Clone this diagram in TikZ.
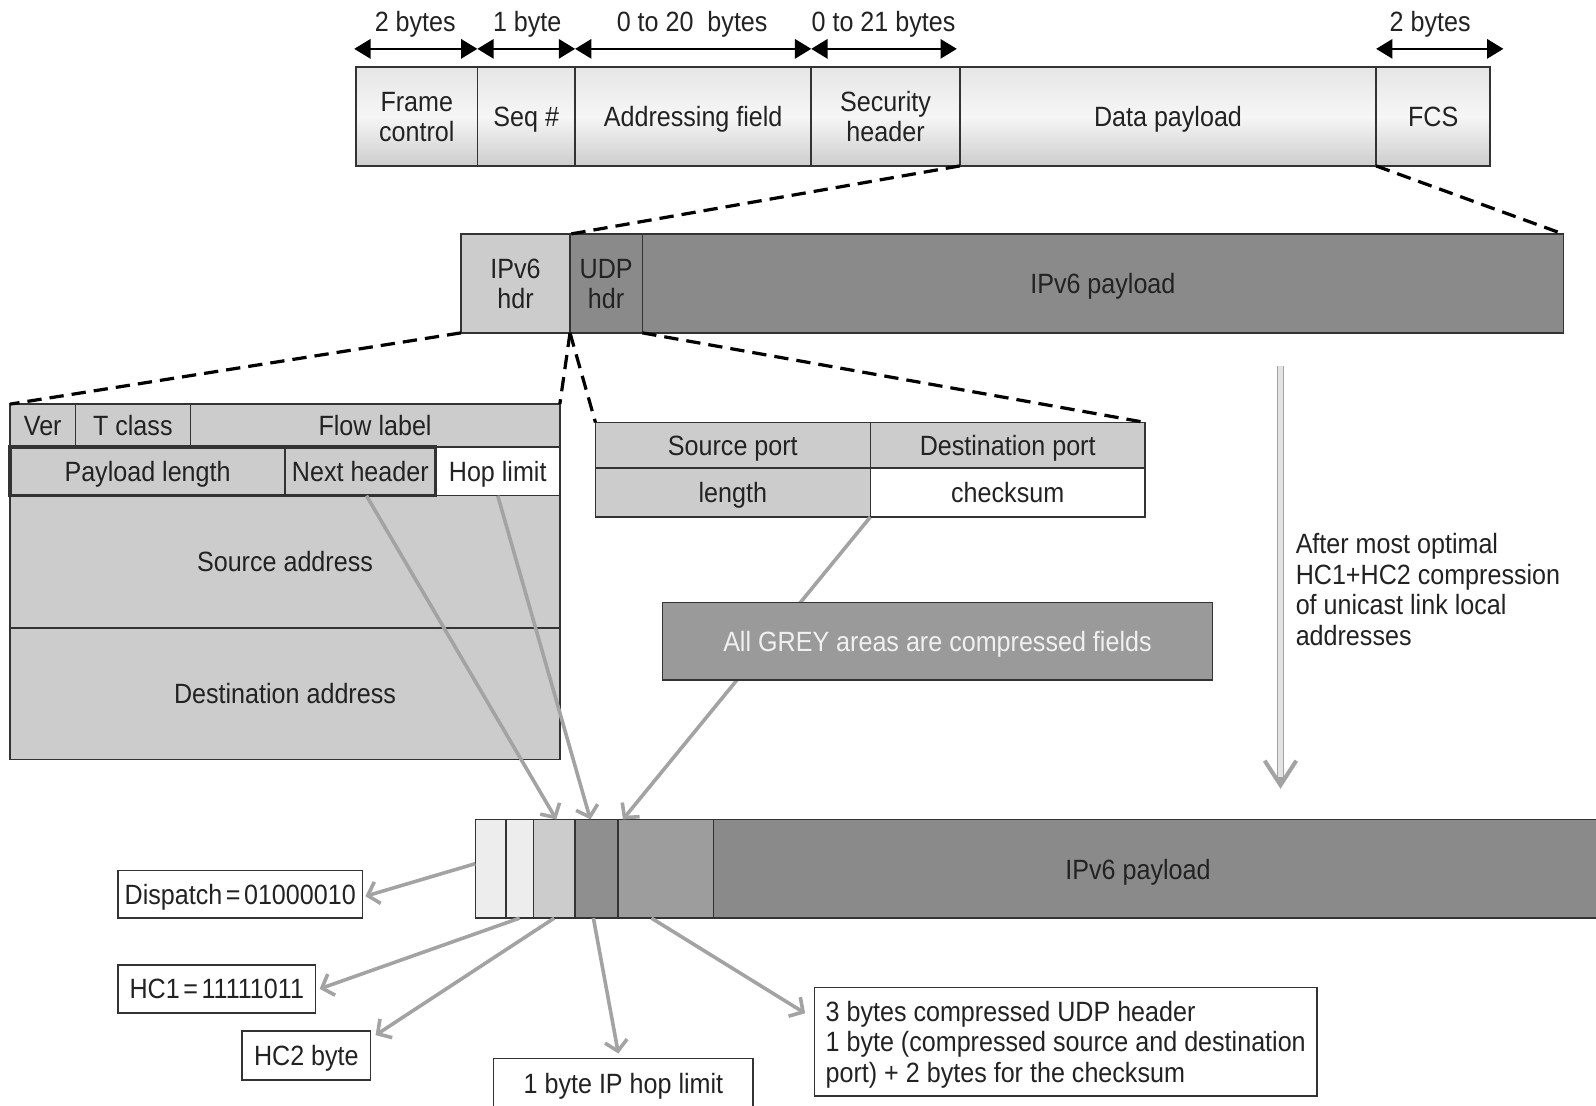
\documentclass[tikz,border=0pt]{standalone}
\usepackage{fontspec}
\setmainfont{Liberation Sans}[FakeStretch=0.9]
\usetikzlibrary{arrows.meta,calc}

\definecolor{ink}{HTML}{222222}
\definecolor{rule}{HTML}{333333}
\definecolor{lgrey}{HTML}{CCCCCC}
\definecolor{dgrey}{HTML}{8A8A8A}
\definecolor{vlgrey}{HTML}{EDEDED}
\definecolor{cgrey}{HTML}{8F8F8F}
\definecolor{mgrey}{HTML}{9D9D9D}
\definecolor{notegrey}{HTML}{9A9A9A}
\definecolor{arrowgrey}{HTML}{A3A3A3}
\definecolor{frametop}{HTML}{E6E6E6}
\definecolor{framemid}{HTML}{F6F6F6}
\definecolor{framebot}{HTML}{CDCDCD}

% a rectangular field given by its corners (x1,y1) (x2,y2)
\newcommand\fieldbox[7]{%
  \node[#6, minimum width={(#4-#2)*0.02cm}, minimum height={(#5-#3)*0.02cm}]
    (#1) at ({(#2+#4)/2},{(#3+#5)/2}) {#7};}

\tikzset{
  txt/.style={font=\fontsize{15.6}{16.8}\selectfont, text=ink, inner sep=0pt,
    outer sep=0pt, align=center, text depth=0pt},
  framecell/.style={txt, draw=rule, line width=0.85pt, top color=frametop,
    bottom color=framebot, middle color=framemid},
  lcell/.style={txt, draw=rule, line width=0.85pt, fill=lgrey},
  dcell/.style={txt, draw=rule, line width=0.85pt, fill=dgrey},
  wcell/.style={txt, draw=rule, line width=0.85pt, fill=white},
  vcell/.style={txt, draw=rule, line width=0.85pt, fill=vlgrey},
  ccell/.style={txt, draw=rule, line width=0.85pt, fill=cgrey},
  mcell/.style={txt, draw=rule, line width=0.85pt, fill=mgrey},
  notecell/.style={txt, draw=rule, line width=0.85pt, fill=notegrey,
    text=white!94!black},
  dim/.style={draw=black, line width=1.1pt,
    {Triangle[length=0.32cm,width=0.38cm]}-{Triangle[length=0.32cm,width=0.38cm]}},
  zoomline/.style={draw=black, line width=1.8pt, dash pattern=on 8pt off 4.5pt},
  garrow/.style={draw=arrowgrey, line width=2pt,
    -{Straight Barb[length=0.2cm,width=0.44cm]}},
}

\begin{document}
\begin{tikzpicture}[x=0.02cm, y=-0.02cm]
\useasboundingbox (0,0) rectangle (1568,1086);
\fill[white] (0,0) rectangle (1568,1086);

% ---- MAC frame ----
\fieldbox{fc}{350}{66}{469}{163}{framecell}{Frame\\control}
\fieldbox{sq}{469}{66}{565}{163}{framecell}{Seq \#}
\fieldbox{af}{565}{66}{797}{163}{framecell}{Addressing field}
\fieldbox{sh}{797}{66}{943}{163}{framecell}{Security\\header}
\fieldbox{dp}{943}{66}{1352}{163}{framecell}{Data payload}
\fieldbox{fcs}{1352}{66}{1464}{163}{framecell}{FCS}

% field sizes
\coordinate (dimrow) at (0,48);
\coordinate (fcsend) at (1477,48);
\draw[dim] ($(fc.north west |- dimrow)+(-2,0)$) -- (sq.north west |- dimrow);
\draw[dim] (sq.north west |- dimrow) -- (af.north west |- dimrow);
\draw[dim] (af.north west |- dimrow) -- (sh.north west |- dimrow);
\draw[dim] (sh.north west |- dimrow) -- ($(dp.north west |- dimrow)+(-3,0)$);
\draw[dim] (fcs.north west |- dimrow) -- (fcsend);
\node[txt] (w1) at (408,21) {2 bytes};
\node[txt] (w2) at (518,21) {1 byte};
\node[txt] (w3) at (680,21) {0 to 20~ bytes};
\node[txt] (w4) at (868,21) {0 to 21 bytes};
\node[txt] (w5) at (1405,21) {2 bytes};

% ---- IPv6 packet ----
\fieldbox{ip6}{453}{230}{560}{327}{lcell}{IPv6\\hdr}
\fieldbox{udp}{560}{230}{631}{327}{dcell}{UDP\\hdr}
\fieldbox{pay}{631}{230}{1536}{327}{dcell}{IPv6 payload}

% ---- IPv6 header ----
\fieldbox{ver}{10}{397}{74}{439}{lcell}{Ver}
\fieldbox{tc}{74}{397}{187}{439}{lcell}{T class}
\fieldbox{flow}{187}{397}{550}{439}{lcell}{Flow label}
\fieldbox{pl}{10}{439}{280}{487}{lcell}{Payload length}
\fieldbox{nh}{280}{439}{428}{487}{lcell}{Next header}
\fieldbox{hl}{428}{439}{550}{487}{wcell}{Hop limit}
\fieldbox{src}{10}{487}{550}{617}{lcell}{Source address}
\fieldbox{dst}{10}{617}{550}{746}{lcell}{Destination address}
\draw[rule, line width=2pt] (pl.north west) rectangle (nh.south east);

% ---- UDP header ----
\fieldbox{sp}{585}{415}{855}{460}{lcell}{Source port}
\fieldbox{dpt}{855}{415}{1125}{460}{lcell}{Destination port}
\fieldbox{len}{585}{460}{855}{508}{lcell}{length}
\fieldbox{cs}{855}{460}{1125}{508}{wcell}{checksum}

% ---- zoom lines ----
\draw[zoomline] (dp.south west) -- (udp.north west);
\draw[zoomline] (fcs.south west) -- (pay.north east);
\draw[zoomline] (ip6.south west) -- (ver.north west);
\draw[zoomline] (udp.south west) -- (flow.north east);
\draw[zoomline] (udp.south west) -- (sp.north west);
\draw[zoomline] (udp.south east) -- (dpt.north east);

% ---- compressed packet ----
\fieldbox{c1}{467}{805}{497}{902}{vcell}{}
\fieldbox{c2}{497}{805}{524}{902}{vcell}{}
\fieldbox{c3}{524}{805}{565}{902}{lcell}{}
\fieldbox{c4}{565}{805}{607}{902}{ccell}{}
\fieldbox{c5}{607}{805}{701}{902}{mcell}{}
\fieldbox{cpay}{701}{805}{1610}{902}{dcell}{}
\node[txt] (cpaytext) at (1118,854) {IPv6 payload};

% ---- arrows into the compressed packet ----
\draw[garrow] ($(nh.south)+(6,0)$) -- ($(c3.north)+(2,0)$);
\draw[garrow] (hl.south) -- ($(c4.north)+(-6,0)$);
\draw[garrow] (cs.south west) -- ($(c5.north west)+(5,0)$);

\fieldbox{note}{651}{592}{1191}{668}{notecell}{All GREY areas are compressed fields}

% ---- compression step ----
\coordinate (stepTop) at (1258,360);
\coordinate (stepBot) at (1258,775);
\draw[draw=arrowgrey, line width=0.03cm, double=gray!22, double distance=0.08cm]
  (stepTop) -- ($(stepBot)+(0,-5)$);
\draw[draw=arrowgrey, line width=0.08cm, -{Straight Barb[length=0.48cm,width=0.62cm]}]
  ($(stepBot)+(0,-12)$) -- (stepBot);
\node[txt, align=left, anchor=west, font=\fontsize{15.6}{17.2}\selectfont]
  (stepnote) at (1273,579) {After most optimal\\HC1+HC2 compression\\of unicast link local\\addresses};

% ---- field descriptions ----
\fieldbox{disp}{116}{855}{356}{902}{wcell}{Dispatch\kern0.07cm=\kern0.07cm01000010}
\fieldbox{hcone}{116}{948}{310}{995}{wcell}{HC1\kern0.07cm=\kern0.07cm11111011}
\fieldbox{hctwo}{238}{1013}{364}{1061}{wcell}{HC2 byte}
\fieldbox{hopb}{485}{1040}{740}{1088}{wcell}{1 byte IP hop limit}
\fieldbox{udpb}{800}{970}{1294}{1077}{wcell, align=left,
  font=\fontsize{15.6}{17.2}\selectfont}{3 bytes compressed UDP header\\1 byte (compressed source and destination\\port) + 2 bytes for the checksum}

\draw[garrow] ($(c1.west)+(0,-5)$) -- ($(disp.east)+(3,2)$);
\draw[garrow] (c2.south) -- ($(hcone.east)+(4,0)$);
\draw[garrow] (c3.south) -- ($(hctwo.north east)+(5,4)$);
\draw[garrow] ($(c4.south)+(-3,0)$) -- ($(hopb.north)+(-5,-5)$);
\draw[garrow] ($(c5.south)+(-14,0)$) -- ($(udpb.west)+(-9,-28)$);
\end{tikzpicture}
\end{document}
